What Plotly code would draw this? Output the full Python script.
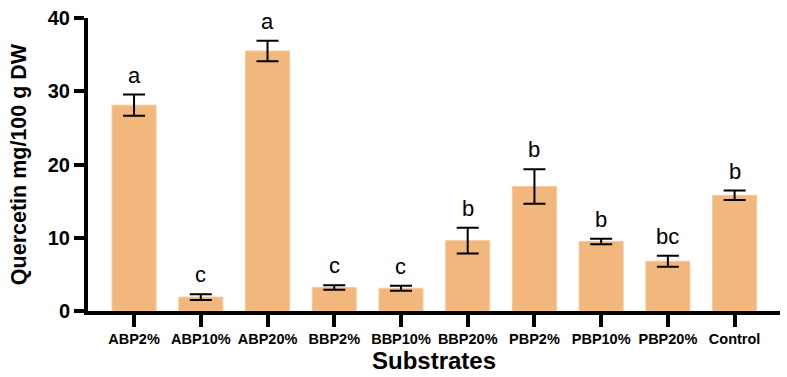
import plotly.graph_objects as go

categories = ["ABP2%", "ABP10%", "ABP20%", "BBP2%", "BBP10%", "BBP20%", "PBP2%", "PBP10%", "PBP20%", "Control"]
means = [28.1, 1.9, 35.5, 3.2, 3.1, 9.6, 17.0, 9.5, 6.8, 15.8]
errors = [1.45, 0.4, 1.4, 0.3, 0.35, 1.75, 2.35, 0.38, 0.75, 0.65]
letters = ["a", "c", "a", "c", "c", "b", "b", "b", "bc", "b"]

fig = go.Figure()
fig.add_trace(go.Bar(
    x=categories, y=means,
    marker=dict(color="#F2B77C", line=dict(color="#F6C99A", width=1)),
    width=0.66,
    error_y=dict(type="data", array=errors, visible=True, color="black", thickness=2, width=11),
))

for c, m, e, l in zip(categories, means, errors, letters):
    fig.add_annotation(x=c, y=m + e, text=l, showarrow=False, yanchor="bottom", yshift=5,
                       font=dict(family="Liberation Sans, Arial", size=22, color="black"))

fig.update_layout(
    width=787, height=377,
    margin=dict(l=88, r=7, t=15, b=65),
    plot_bgcolor="white", paper_bgcolor="white",
    showlegend=False,
    font=dict(family="Liberation Sans, Arial", color="black"),
    xaxis=dict(
        range=[-0.69, 9.68], showline=True, linewidth=4, linecolor="black",
        ticks="outside", ticklen=12, tickwidth=4, tickcolor="black",
        tickfont=dict(size=14.5, family="Liberation Sans, Arial", weight="bold"),
        title=dict(text="<b>Substrates</b>", font=dict(size=24), standoff=6),
        showgrid=False, zeroline=False,
    ),
    yaxis=dict(
        range=[0, 40], tickvals=[0, 10, 20, 30, 40], showline=True, linewidth=4, linecolor="black",
        ticks="outside", ticklen=10, tickwidth=4, tickcolor="black",
        tickfont=dict(size=20, family="Liberation Sans, Arial", weight="bold"),
        title=dict(text="<b>Quercetin mg/100 g DW</b>", font=dict(size=21.5), standoff=16),
        showgrid=False, zeroline=False,
    ),
)
fig.write_html("out.html")
